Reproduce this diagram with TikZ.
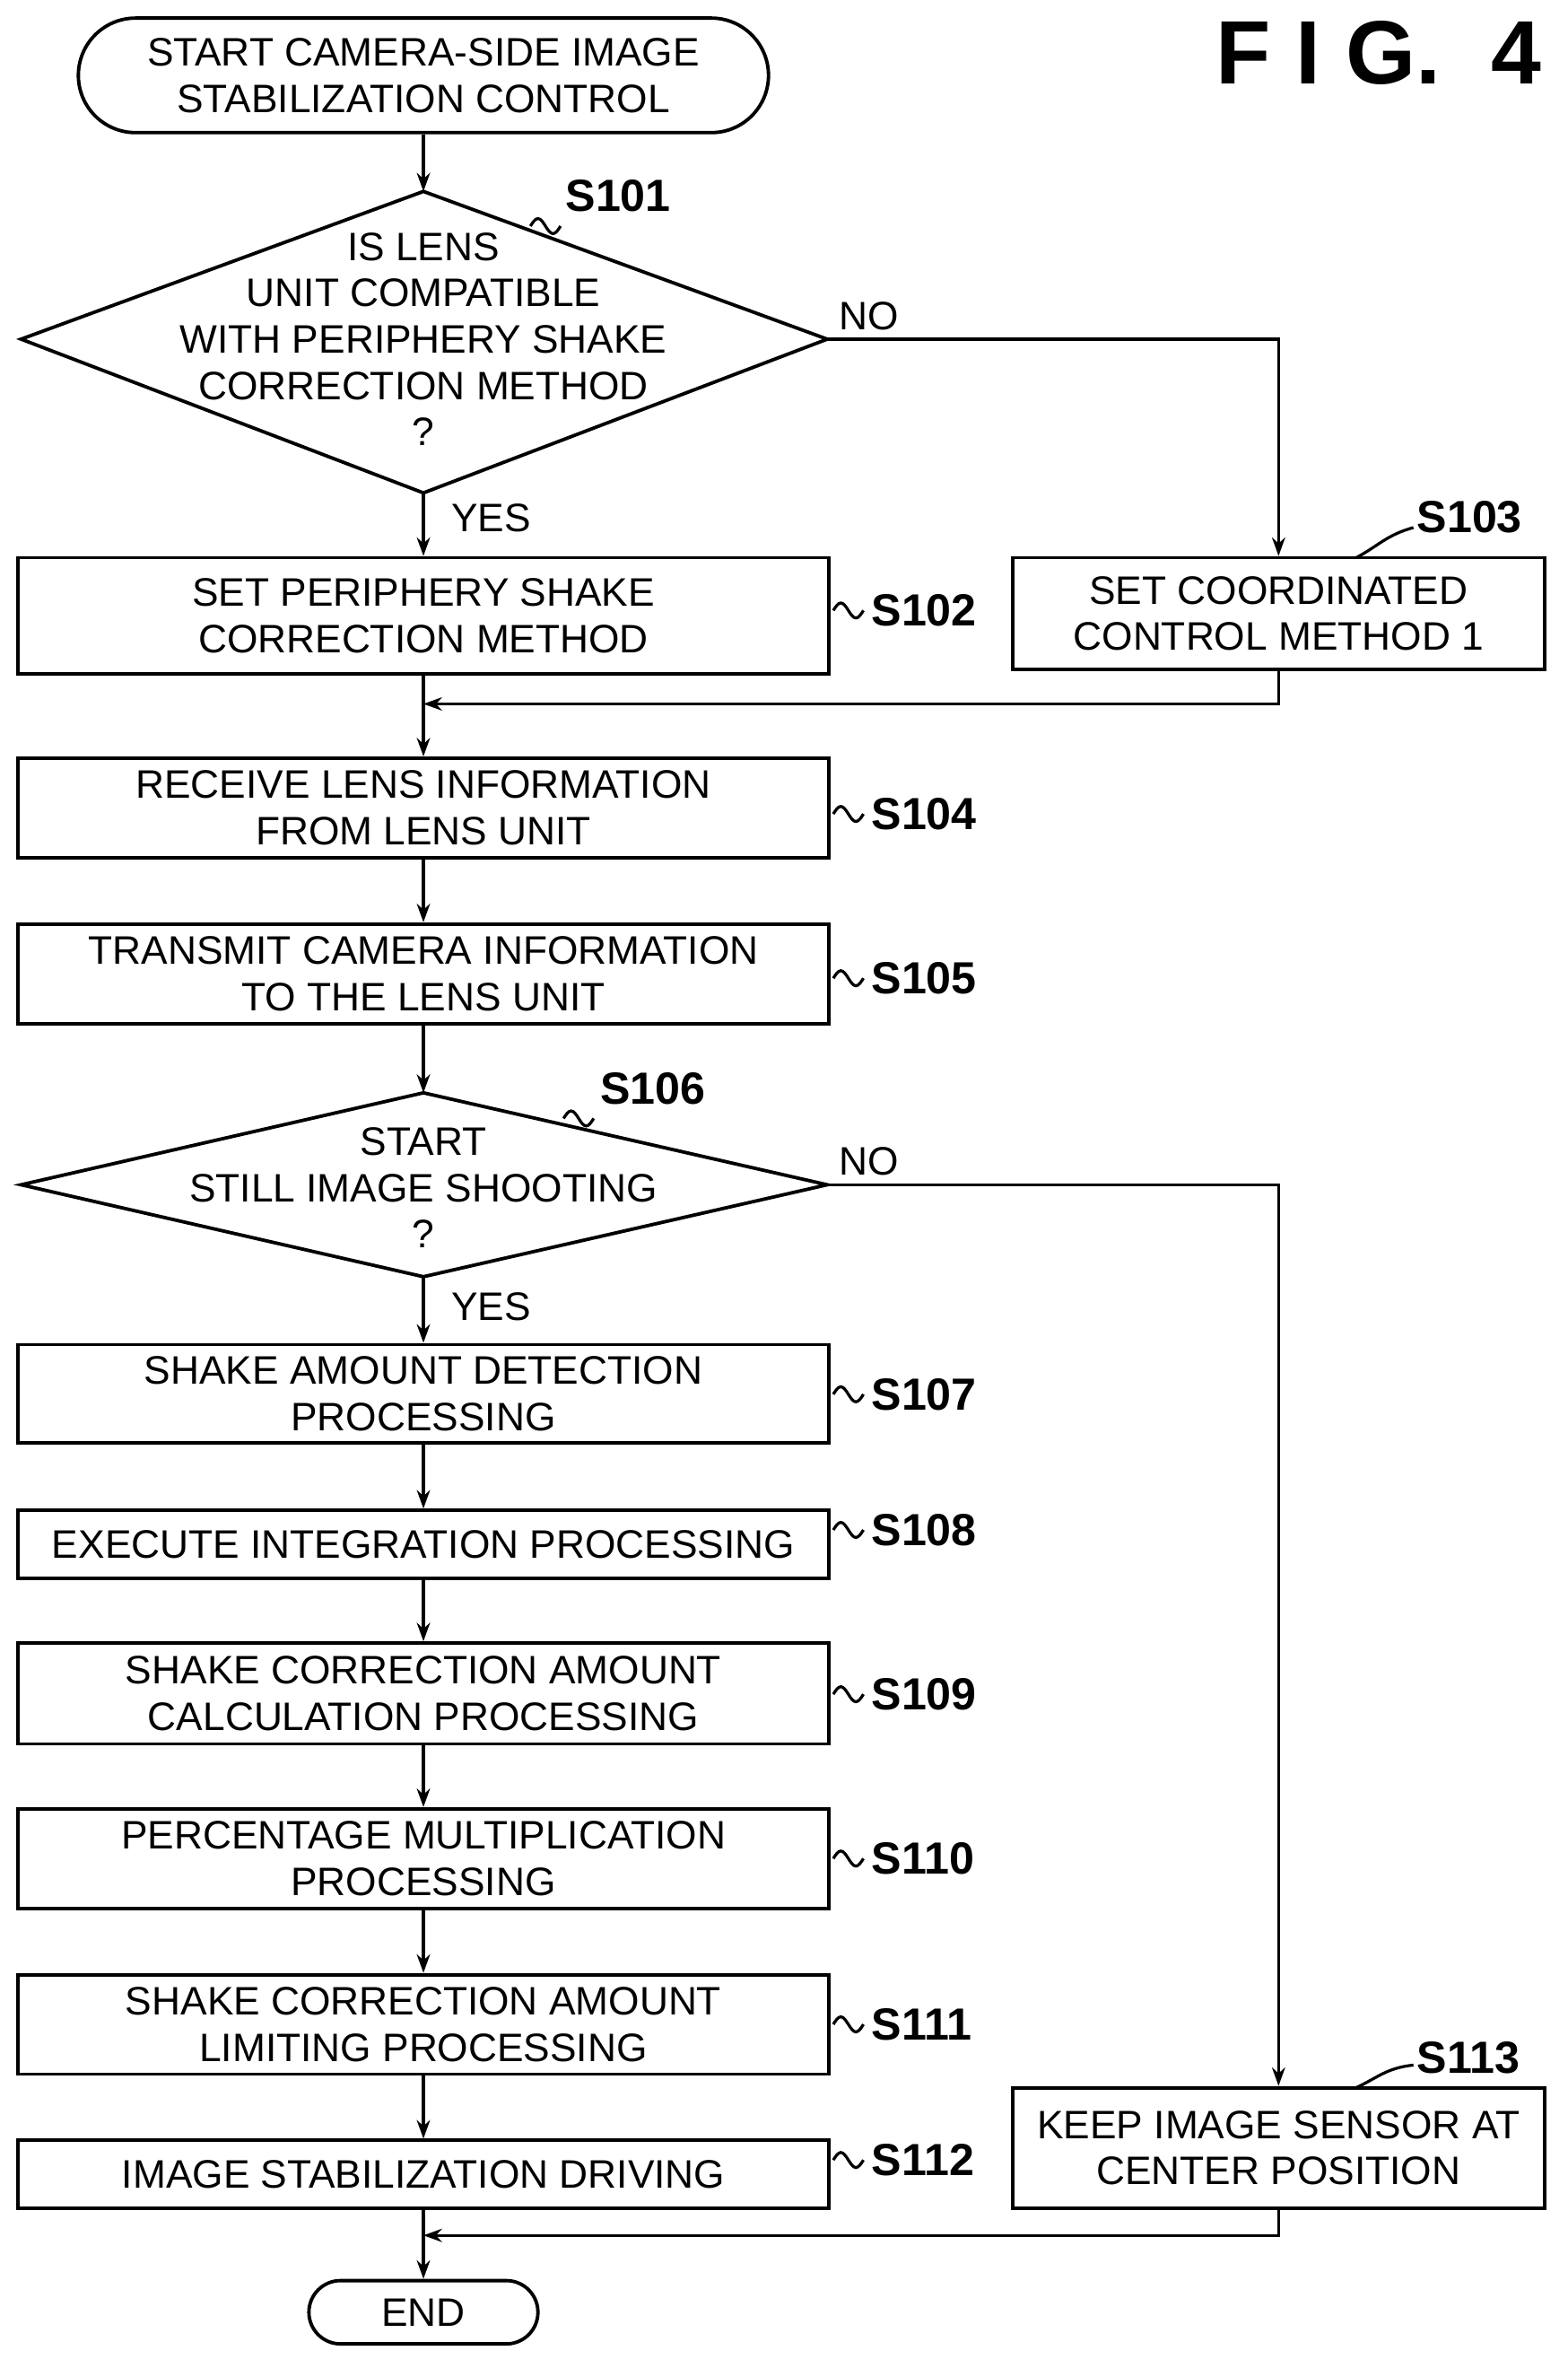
\documentclass[tikz,border=0pt]{standalone}
\usepackage{fontspec}
\setmainfont{Liberation Sans}
\usetikzlibrary{arrows.meta}
\begin{document}
\begin{tikzpicture}[x=0.02cm,y=-0.02cm,
  every node/.style={font=\fontsize{15}{17.5}\selectfont,align=center,inner sep=0pt},
  box/.style={draw,line width=1.3pt,minimum width=538*0.02cm},
  rbox/.style={draw,line width=1.3pt,minimum width=353*0.02cm},
  ln/.style={line width=1.1pt},
  ar/.style={ln,-{Stealth[length=7pt,width=5pt]}},
  lab/.style={font=\bfseries\fontsize{17}{19}\selectfont}]
\useasboundingbox (0,0) rectangle (1040,1571);
% start
\node[draw,line width=1.3pt,rounded corners=38*0.02cm,minimum width=458*0.02cm,minimum height=76*0.02cm] (start) at (281,50) {START CAMERA-SIDE IMAGE\\STABILIZATION CONTROL};
\node[font=\bfseries\fontsize{34}{36}\selectfont] (fig) at (915,35) {F I G.\ \ 4};
% diamond 1
\coordinate (d1t) at (281,127); \coordinate (d1b) at (281,327);
\coordinate (d1l) at (14,225); \coordinate (d1r) at (549,225);
\draw[line width=1.3pt] (d1t)--(d1r)--(d1b)--(d1l)--cycle;
\node (d1) at (281,225) {IS LENS\\UNIT COMPATIBLE\\WITH PERIPHERY SHAKE\\CORRECTION METHOD\\?};
\node[box,minimum height=77*0.02cm] (s102) at (281,408.5) {SET PERIPHERY SHAKE\\CORRECTION METHOD};
\node[rbox,minimum height=74*0.02cm] (s103) at (848.5,407) {SET COORDINATED\\CONTROL METHOD 1};
\coordinate (m1) at (281,467);
\node[box,minimum height=66*0.02cm] (s104) at (281,536) {RECEIVE LENS INFORMATION\\FROM LENS UNIT};
\node[box,minimum height=66*0.02cm] (s105) at (281,646) {TRANSMIT CAMERA INFORMATION\\TO THE LENS UNIT};
% diamond 2
\coordinate (d2t) at (281,725); \coordinate (d2b) at (281,847);
\coordinate (d2l) at (14,786); \coordinate (d2r) at (549,786);
\draw[line width=1.3pt] (d2t)--(d2r)--(d2b)--(d2l)--cycle;
\node (d2) at (281,788) {START\\STILL IMAGE SHOOTING\\?};
\node[box,minimum height=65*0.02cm] (s107) at (281,924.5) {SHAKE AMOUNT DETECTION\\PROCESSING};
\node[box,minimum height=45*0.02cm] (s108) at (281,1024.5) {EXECUTE INTEGRATION PROCESSING};
\node[box,minimum height=67*0.02cm] (s109) at (281,1123.5) {SHAKE CORRECTION AMOUNT\\CALCULATION PROCESSING};
\node[box,minimum height=66*0.02cm] (s110) at (281,1233) {PERCENTAGE MULTIPLICATION\\PROCESSING};
\node[box,minimum height=66*0.02cm] (s111) at (281,1343) {SHAKE CORRECTION AMOUNT\\LIMITING PROCESSING};
\node[box,minimum height=45*0.02cm] (s112) at (281,1442.5) {IMAGE STABILIZATION DRIVING};
\node[rbox,minimum height=80*0.02cm] (s113) at (848.5,1425) {KEEP IMAGE SENSOR AT\\CENTER POSITION};
\coordinate (m2) at (281,1483);
\node[draw,line width=1.3pt,rounded corners=21*0.02cm,minimum width=152*0.02cm,minimum height=42*0.02cm] (end) at (281,1534) {END};
% connectors
\draw[ar] (start) -- (d1t);
\draw[ar] (d1b) -- node[anchor=west,xshift=10pt,pos=0.4] {YES} (s102);
\draw[ar] (d1r) -| node[anchor=south west,xshift=4pt,yshift=3pt,pos=0.0] {NO} (s103);
\draw[ar] (s103.south) |- (m1);
\draw[ar] (s102) -- (s104);
\draw[ar] (s104) -- (s105);
\draw[ar] (s105) -- (d2t);
\draw[ar] (d2b) -- node[anchor=west,xshift=10pt,pos=0.45] {YES} (s107);
\draw[ar] (d2r) -| node[anchor=south west,xshift=4pt,yshift=3pt,pos=0.0] {NO} (s113);
\draw[ar] (s107) -- (s108);
\draw[ar] (s108) -- (s109);
\draw[ar] (s109) -- (s110);
\draw[ar] (s110) -- (s111);
\draw[ar] (s111) -- (s112);
\draw[ar] (s113.south) |- (m2);
\draw[ar] (s112) -- (end);
% step labels
\newcommand\sq[1]{\draw[ln] #1 sin ++(5,-5) cos ++(5,5) sin ++(5,5) cos ++(5,-5);}
\node[lab,anchor=west] (l101) at (375,130) {S101}; \sq{(352,150)}
\node[lab,anchor=west] (l102) at (578,405) {S102}; \sq{(553,405)}
\node[lab,anchor=west] (l103) at (940,343) {S103}; \draw[ln] (900,370) .. controls (915,362) and (920,355) .. (938,350);
\node[lab,anchor=west] (l104) at (578,540) {S104}; \sq{(553,540)}
\node[lab,anchor=west] (l105) at (578,649) {S105}; \sq{(553,649)}
\node[lab,anchor=west] (l106) at (398,722) {S106}; \sq{(374,742)}
\node[lab,anchor=west] (l107) at (578,925) {S107}; \sq{(553,925)}
\node[lab,anchor=west] (l108) at (578,1015) {S108}; \sq{(553,1015)}
\node[lab,anchor=west] (l109) at (578,1124) {S109}; \sq{(553,1124)}
\node[lab,anchor=west] (l110) at (578,1233) {S110}; \sq{(553,1233)}
\node[lab,anchor=west] (l111) at (578,1343) {S111}; \sq{(553,1343)}
\node[lab,anchor=west] (l112) at (578,1433) {S112}; \sq{(553,1433)}
\node[lab,anchor=west] (l113) at (940,1365) {S113}; \draw[ln] (900,1385) .. controls (915,1378) and (920,1372) .. (938,1370);
\end{tikzpicture}
\end{document}
